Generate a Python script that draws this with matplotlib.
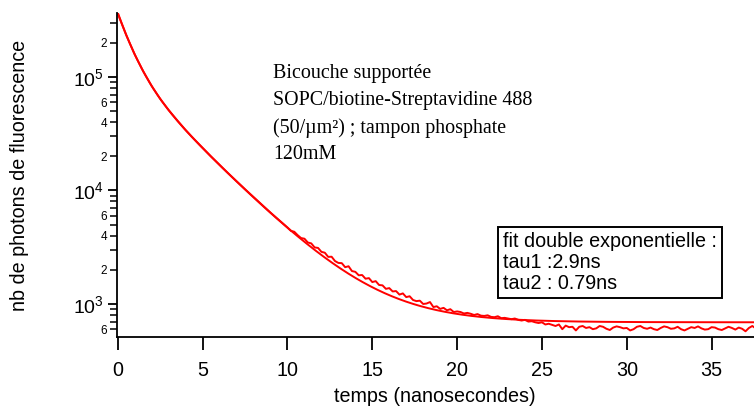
import numpy as np
import matplotlib.pyplot as plt
from matplotlib.ticker import LogLocator, FuncFormatter, MultipleLocator

plt.rcParams['font.family'] = ['Liberation Sans', 'DejaVu Sans']

# Measured decay: coarse steps on the smooth part, finer steps on the noisy tail
t_early = np.arange(0.0, 10.0, 0.5)
counts_early = [360000, 232000, 157000, 112000, 83000, 64000, 51000, 41500, 34000, 28300,
                23700, 19900, 16800, 14200, 12050, 10250, 8750, 7450, 6380, 5480]

t_late = np.round(np.arange(10.0, 37.61, 0.2), 1)
counts_late = [4720, 4410, 4330, 4040, 3810, 3760, 3480, 3420, 3150, 3120,
               2880, 2830, 2600, 2610, 2390, 2300, 2290, 2110, 2150, 1950,
               1920, 1790, 1800, 1670, 1690, 1560, 1590, 1470, 1460, 1360,
               1380, 1290, 1300, 1210, 1240, 1150, 1170, 1085, 1060, 1070,
               1000, 1010, 1040, 940, 955, 905, 925, 880, 900, 850,
               860, 850, 825, 835, 820, 800, 815, 790, 785, 795,
               770, 765, 780, 750, 755, 745, 735, 745, 725, 715,
               725, 700, 705, 690, 680, 690, 660, 670, 655, 640,
               660, 600, 645, 625, 630,
               585, 630, 640, 615, 625, 600, 610, 640, 630, 605,
               590, 620, 635, 625, 610, 615, 585, 600, 630, 640,
               615, 605, 620, 600, 590, 615, 635, 625, 605, 610,
               630, 600, 585, 605, 625, 615, 635, 610, 595, 600,
               625, 620, 600, 590, 610, 630, 615, 595, 620, 605,
               575, 615, 640, 610]

t_data = np.concatenate([t_early, t_late])
counts = np.array(counts_early + counts_late, dtype=float)

# Double exponential fit parameters
tau1, tau2 = 2.9, 0.79
amp1, amp2, offset = 126000, 240000, 690
t_fit = np.linspace(0, 37.6, 800)
fit = amp1 * np.exp(-t_fit / tau1) + amp2 * np.exp(-t_fit / tau2) + offset

fig = plt.figure(figsize=(7.54, 4.09), dpi=100)
ax = fig.add_axes([117 / 754, 1 - 337 / 409, 637 / 754, 324 / 409])

ax.plot(t_data, counts, color='#ff0000', lw=1.4)
ax.plot(t_fit, fit, color='#ff0000', lw=1.4)

ax.set_yscale('log')
ax.set_xlim(-0.05, 37.5)
ax.set_ylim(512, 366000)

for side in ('top', 'right'):
    ax.spines[side].set_visible(False)
for side in ('left', 'bottom'):
    ax.spines[side].set_linewidth(1.3)

ax.xaxis.set_major_locator(MultipleLocator(5))
ax.tick_params(axis='x', direction='out', length=9.5, width=1.3, labelsize=14.2, pad=8)

ax.yaxis.set_major_locator(LogLocator(base=10))
ax.yaxis.set_minor_locator(LogLocator(base=10, subs=np.arange(2, 10)))


def minor_label(v, pos):
    m = round(v / 10 ** np.floor(np.log10(v) + 1e-9))
    return str(m) if m in (2, 4, 6) else ''


ax.yaxis.set_minor_formatter(FuncFormatter(minor_label))
ax.tick_params(axis='y', which='major', direction='out', length=6.5, width=1.3, labelsize=14, pad=3)
ax.tick_params(axis='y', which='minor', direction='out', length=5, width=1.1, labelsize=8.5, pad=2)

fig.text(20 / 754, 1 - 175 / 409, 'nb de photons de fluorescence', rotation=90,
         ha='center', va='center', fontsize=14.2)
fig.text(435 / 754, 1 - 396 / 409, 'temps (nanosecondes)', ha='center', va='center', fontsize=14.2)

fig.text(273 / 754, 1 - 64 / 409,
         'Bicouche supportée\nSOPC/biotine-Streptavidine 488\n(50/µm²) ; tampon phosphate\n120mM',
         family=['Liberation Serif', 'DejaVu Serif'], fontsize=14.4, ha='left', va='top',
         linespacing=1.55)

fig.text(503 / 754, 1 - 232 / 409,
         'fit double exponentielle :\ntau1 :2.9ns\ntau2 : 0.79ns',
         fontsize=14.2, ha='left', va='top', linespacing=1.12,
         bbox=dict(boxstyle='square,pad=0.25', fc='white', ec='black', lw=1.4))

fig.savefig('out.png', dpi=100)
